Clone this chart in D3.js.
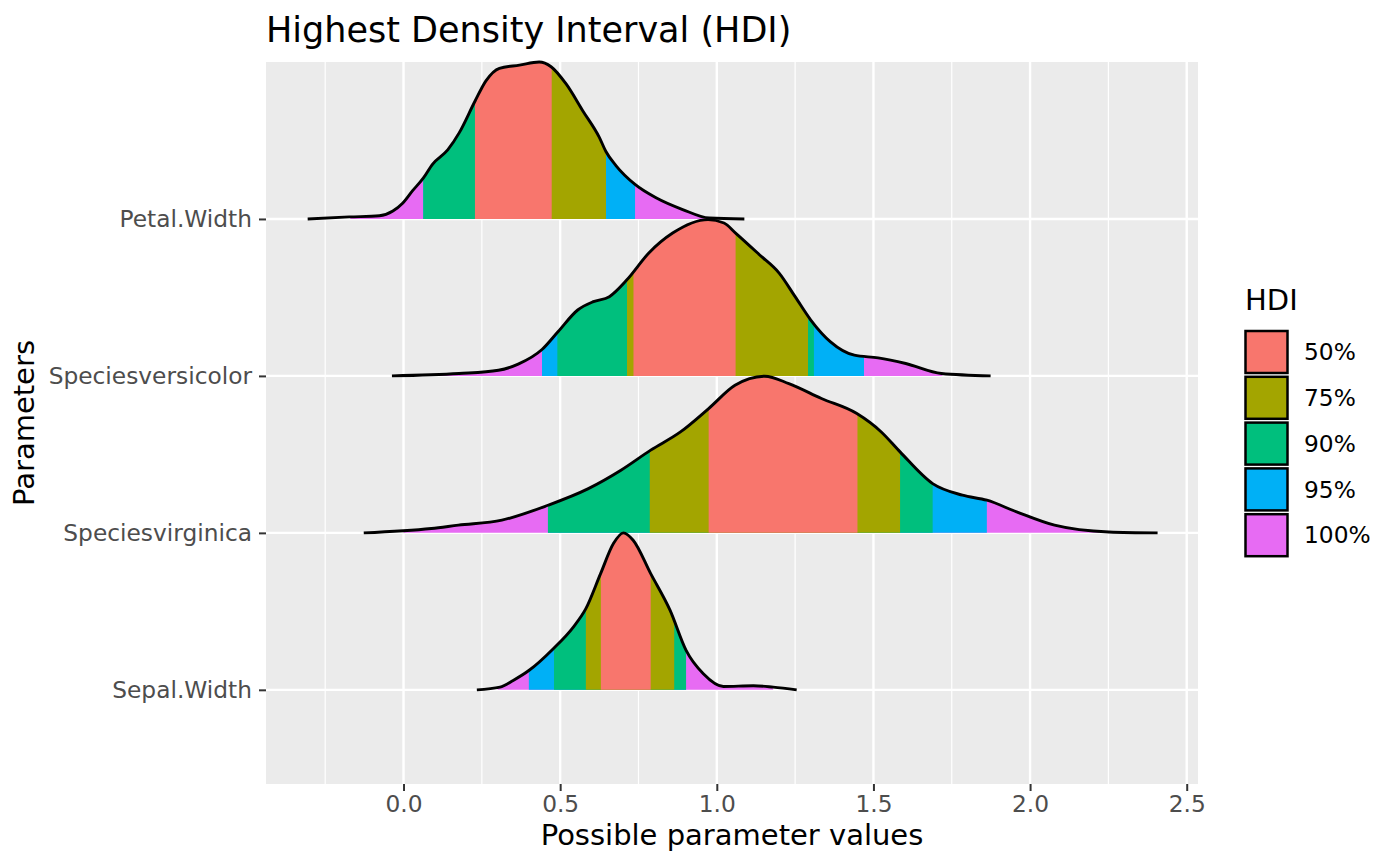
<!DOCTYPE html>
<html>
<head>
<meta charset="utf-8">
<script src="https://cdn.jsdelivr.net/npm/d3@7"></script>
<style>
  body { margin: 0; background: #fff; }
  text { font-family: "DejaVu Sans", sans-serif; }
</style>
</head>
<body>
<div id="main"></div>
<script>
// parameters, bottom to top
const params = ["Sepal.Width", "Speciesvirginica", "Speciesversicolor", "Petal.Width"];
const hdiLevels = ["50%", "75%", "90%", "95%", "100%"];
const xTicks = [0, 0.5, 1, 1.5, 2, 2.5];

// density curves (x value, relative height)
const petalX = [-0.306, -0.173, -0.077, -0.034, -0.003, 0.029, 0.063, 0.093, 0.141, 0.178, 0.228, 0.263, 0.306, 0.370, 0.433, 0.471, 0.519, 0.572, 0.625, 0.646, 0.678, 0.739, 0.806, 0.891, 0.976, 1.088];
const petalH = [0, 0.013, 0.02, 0.05, 0.10, 0.18, 0.26, 0.35, 0.44, 0.55, 0.75, 0.88, 0.96, 0.98, 1.0, 0.97, 0.86, 0.69, 0.52, 0.43, 0.34, 0.22, 0.135, 0.06, 0.006, 0];

const versiX = [-0.037, 0.177, 0.303, 0.366, 0.442, 0.493, 0.556, 0.606, 0.657, 0.713, 0.783, 0.859, 0.972, 1.023, 1.06, 1.136, 1.199, 1.25, 1.30, 1.363, 1.439, 1.515, 1.603, 1.717, 1.874];
const versiH = [0, 0.015, 0.036, 0.075, 0.168, 0.281, 0.42, 0.473, 0.505, 0.612, 0.783, 0.91, 0.996, 0.974, 0.91, 0.772, 0.655, 0.505, 0.356, 0.217, 0.132, 0.115, 0.079, 0.015, 0];

const virgX = [-0.127, 0.089, 0.175, 0.314, 0.461, 0.59, 0.694, 0.789, 0.884, 0.974, 1.058, 1.153, 1.23, 1.334, 1.447, 1.525, 1.585, 1.689, 1.784, 1.862, 1.957, 2.078, 2.251, 2.407];
const virgH = [0, 0.028, 0.049, 0.081, 0.176, 0.282, 0.399, 0.527, 0.643, 0.792, 0.94, 0.998, 0.951, 0.856, 0.76, 0.643, 0.516, 0.314, 0.24, 0.208, 0.134, 0.049, 0.006, 0];

const sepalX = [0.234, 0.308, 0.35, 0.40, 0.478, 0.542, 0.582, 0.629, 0.67, 0.702, 0.733, 0.789, 0.851, 0.902, 0.957, 1.021, 1.117, 1.18, 1.255];
const sepalH = [0, 0.017, 0.06, 0.123, 0.262, 0.40, 0.517, 0.74, 0.932, 1.0, 0.953, 0.74, 0.506, 0.251, 0.102, 0.021, 0.026, 0.017, 0];

// HDI bounds, one per level (50, 75, 90, 95, 100)
const petalLow  = [0.228, 0.228, 0.063, 0.063, -0.17];
const petalHigh = [0.473, 0.646, 0.646, 0.739, 0.975];
const versiLow  = [0.734, 0.713, 0.491, 0.442, 0.08];
const versiHigh = [1.06, 1.291, 1.31, 1.47, 1.72];
const virgLow   = [0.974, 0.786, 0.461, 0.461, 0.0];
const virgHigh  = [1.449, 1.585, 1.689, 1.862, 2.22];
const sepalLow  = [0.63, 0.582, 0.48, 0.40, 0.30];
const sepalHigh = [0.789, 0.864, 0.902, 0.902, 1.18];

const ridges = [
  { name: params[0], xs: sepalX, hs: sepalH, low: sepalLow, high: sepalHigh },
  { name: params[1], xs: virgX, hs: virgH, low: virgLow, high: virgHigh },
  { name: params[2], xs: versiX, hs: versiH, low: versiLow, high: versiHigh },
  { name: params[3], xs: petalX, hs: petalH, low: petalLow, high: petalHigh },
];

const width = 1400;
const height = 866;
const margin = { top: 62, right: 202, bottom: 82, left: 266 };
const fillColors = ["#F8766D", "#A3A500", "#00BF7D", "#00B0F6", "#E76BF3"];

const svg = d3.select("#main")
  .append("svg")
  .attr("width", width)
  .attr("height", height);

const x = d3.scaleLinear()
  .domain([-0.439, 2.536])
  .range([margin.left, width - margin.right]);

const y = d3.scaleLinear()
  .domain([0.4, 5.0])
  .range([height - margin.bottom, margin.top]);

const color = d3.scaleOrdinal().domain(hdiLevels).range(fillColors);

// panel
svg.append("rect")
  .attr("x", margin.left)
  .attr("y", margin.top)
  .attr("width", width - margin.left - margin.right)
  .attr("height", height - margin.top - margin.bottom)
  .attr("fill", "#ebebeb");

const minor = d3.range(-0.25, 2.5, 0.5);
svg.append("g").selectAll("line")
  .data(minor)
  .join("line")
  .attr("x1", d => x(d)).attr("x2", d => x(d))
  .attr("y1", margin.top).attr("y2", height - margin.bottom)
  .attr("stroke", "#fff").attr("stroke-width", 1.2);

svg.append("g").selectAll("line")
  .data(xTicks)
  .join("line")
  .attr("x1", d => x(d)).attr("x2", d => x(d))
  .attr("y1", margin.top).attr("y2", height - margin.bottom)
  .attr("stroke", "#fff").attr("stroke-width", 2.4);

svg.append("g").selectAll("line")
  .data(params)
  .join("line")
  .attr("x1", margin.left).attr("x2", width - margin.right)
  .attr("y1", (d, i) => y(i + 1)).attr("y2", (d, i) => y(i + 1))
  .attr("stroke", "#fff").attr("stroke-width", 2.4);

// clip rects for each HDI band
const defs = svg.append("defs");
ridges.forEach((r, ri) => {
  hdiLevels.forEach((lvl, li) => {
    defs.append("clipPath")
      .attr("id", `clip-${ri}-${li}`)
      .append("rect")
      .attr("x", x(r.low[li]))
      .attr("width", x(r.high[li]) - x(r.low[li]))
      .attr("y", margin.top)
      .attr("height", height - margin.top - margin.bottom);
  });
});

// draw ridges top to bottom so lower ones sit in front
const order = d3.range(ridges.length).reverse();
order.forEach(ri => {
  const r = ridges[ri];
  const pos = ri + 1;
  const pts = r.xs.map((v, i) => [v, r.hs[i]]);

  const area = d3.area()
    .curve(d3.curveMonotoneX)
    .x(d => x(d[0]))
    .y0(y(pos))
    .y1(d => y(pos + d[1]));

  const line = d3.line()
    .curve(d3.curveMonotoneX)
    .x(d => x(d[0]))
    .y(d => y(pos + d[1]));

  const g = svg.append("g");
  // widest interval first, narrowest on top
  for (let li = hdiLevels.length - 1; li >= 0; li--) {
    g.append("path")
      .datum(pts)
      .attr("clip-path", `url(#clip-${ri}-${li})`)
      .attr("fill", color(hdiLevels[li]))
      .attr("d", area);
  }
  g.append("path")
    .datum(pts)
    .attr("fill", "none")
    .attr("stroke", "#000")
    .attr("stroke-width", 2.9)
    .attr("stroke-linejoin", "round")
    .attr("d", line);
});

// axes
function xAxis(g) {
  g.attr("transform", `translate(0,${height - margin.bottom})`)
    .call(d3.axisBottom(x).tickValues(xTicks).tickFormat(d3.format(".1f")).tickSize(7).tickPadding(4.5))
    .call(g => g.select(".domain").remove())
    .call(g => g.selectAll(".tick line").attr("stroke", "#333").attr("stroke-width", 2))
    .call(g => g.selectAll(".tick text").attr("fill", "#4d4d4d").attr("font-size", "23.3px").attr("font-family", "DejaVu Sans"));
}

function yAxis(g) {
  g.attr("transform", `translate(${margin.left},0)`)
    .call(d3.axisLeft(y).tickValues([1, 2, 3, 4]).tickFormat(d => params[d - 1]).tickSize(7).tickPadding(7))
    .call(g => g.select(".domain").remove())
    .call(g => g.selectAll(".tick line").attr("stroke", "#333").attr("stroke-width", 2))
    .call(g => g.selectAll(".tick text").attr("fill", "#4d4d4d").attr("font-size", "23.3px").attr("font-family", "DejaVu Sans"));
}

svg.append("g").call(xAxis);
svg.append("g").call(yAxis);

// titles
svg.append("text")
  .attr("x", margin.left)
  .attr("y", 42)
  .attr("font-size", "35px")
  .attr("fill", "#000")
  .text("Highest Density Interval (HDI)");

svg.append("text")
  .attr("x", (margin.left + width - margin.right) / 2)
  .attr("y", 845)
  .attr("text-anchor", "middle")
  .attr("font-size", "29px")
  .text("Possible parameter values");

svg.append("text")
  .attr("transform", `translate(33.5,${(margin.top + height - margin.bottom) / 2}) rotate(-90)`)
  .attr("text-anchor", "middle")
  .attr("font-size", "29px")
  .text("Parameters");

// legend
const legend = svg.append("g");
legend.append("text")
  .attr("x", 1245)
  .attr("y", 310)
  .attr("font-size", "29px")
  .text("HDI");

const keys = legend.selectAll("g.key")
  .data(hdiLevels)
  .join("g")
  .attr("class", "key")
  .attr("transform", (d, i) => `translate(1245,${330.5 + i * 45.8})`);

keys.append("rect")
  .attr("x", 0.5).attr("y", 0.5)
  .attr("width", 42).attr("height", 42)
  .attr("fill", d => color(d))
  .attr("stroke", "#000")
  .attr("stroke-width", 2.5);

keys.append("text")
  .attr("x", 59)
  .attr("y", 21.5)
  .attr("dy", "0.35em")
  .attr("font-size", "23.3px")
  .attr("fill", "#000")
  .text(d => d);
</script>
</body>
</html>
